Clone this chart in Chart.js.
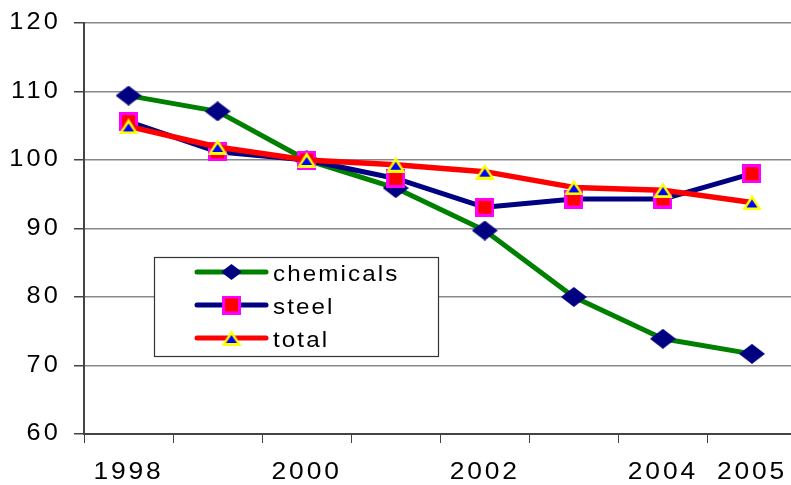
<!DOCTYPE html>
<html>
<head>
<meta charset="utf-8">
<script src="https://cdn.jsdelivr.net/npm/chart.js@4/dist/chart.umd.min.js"></script>
<style>
  html, body { margin: 0; padding: 0; background: #fff; overflow: hidden; }
  #wrap { width: 806px; height: 485px; }
</style>
</head>
<body>
<div id="wrap"><canvas id="c" width="806" height="485"></canvas></div>
<script>
// Index values by year (2000 = 100)
const years = ['1998', '1999', '2000', '2001', '2002', '2003', '2004', '2005'];
const labeledYears = ['1998', '2000', '2002', '2004', '2005'];
const chemicals = [109.4, 107.1, 100.0, 95.9, 89.7, 80.0, 73.9, 71.7];
const steel     = [105.6, 101.2, 100.0, 97.3, 93.1, 94.3, 94.3, 98.0];
const total     = [104.9, 101.9, 100.0, 99.3, 98.3, 96.0, 95.6, 93.8];
const yMin = 60, yMax = 120, yStep = 10;

const FONT = '"Liberation Sans", Arial, sans-serif';
const STRETCH = 1.1;   // slightly wide lettering

// Marker images
function makeMarker(w, h, draw) {
  const c = document.createElement('canvas');
  c.width = w; c.height = h;
  draw(c.getContext('2d'), w, h);
  return c;
}
function diamondMarker(w, h) {
  return makeMarker(w, h, (g) => {
    g.fillStyle = '#000080';
    g.beginPath();
    g.moveTo(w / 2, 0); g.lineTo(w, h / 2); g.lineTo(w / 2, h); g.lineTo(0, h / 2);
    g.closePath(); g.fill();
  });
}
const diamond = diamondMarker(26, 20);
const diamondSmall = diamondMarker(21, 16);
const square = makeMarker(19, 19, (g, w, h) => {
  g.fillStyle = '#FF00FF'; g.fillRect(0, 0, w, h);
  g.fillStyle = '#FF0000'; g.fillRect(3, 3, w - 6, h - 6);
});
const triangle = makeMarker(20, 16, (g, w, h) => {
  g.fillStyle = '#FFFF00';
  g.beginPath(); g.moveTo(w / 2, 0); g.lineTo(w, h); g.lineTo(0, h); g.closePath(); g.fill();
  g.fillStyle = '#0000FF';
  g.beginPath(); g.moveTo(w / 2, 5); g.lineTo(w - 4.5, h - 3); g.lineTo(4.5, h - 3); g.closePath(); g.fill();
});
const legendMarkers = [diamondSmall, square, triangle];

// Draw text horizontally stretched about its anchor point
function wideText(ctx, text, x, y, k) {
  ctx.save();
  ctx.translate(x, y);
  ctx.scale(k, 1);
  CanvasRenderingContext2D.prototype.fillText.call(ctx, text, 0, 0);
  ctx.restore();
}

// Tick labels of a scale drawn with wide, spaced lettering
function wideLabels(scale, k, px) {
  if (scale._wide) return;
  const orig = scale.drawLabels;
  scale.drawLabels = function (area) {
    const ctx = this.ctx;
    ctx.save();
    ctx.letterSpacing = px;
    ctx.fillText = function (t, x, y) { wideText(ctx, t, x, y, k); };
    orig.call(this, area);
    delete ctx.fillText;
    ctx.restore();
  };
  scale._wide = true;
}

// Boxed legend placed inside the plot area
const insetLegend = {
  id: 'insetLegend',
  afterDatasetsDraw(chart) {
    const ctx = chart.ctx;
    const box = { x: 154.5, y: 257.5, w: 284, h: 99 };
    ctx.save();
    ctx.fillStyle = '#fff';
    ctx.fillRect(box.x, box.y, box.w, box.h);
    ctx.strokeStyle = '#333';
    ctx.lineWidth = 1.2;
    ctx.strokeRect(box.x, box.y, box.w, box.h);
    const rows = [272, 305, 338];
    chart.data.datasets.forEach((ds, i) => {
      const y = rows[i];
      ctx.strokeStyle = ds.borderColor;
      ctx.lineWidth = 5;
      ctx.lineCap = 'round';
      ctx.beginPath(); ctx.moveTo(197, y); ctx.lineTo(266, y); ctx.stroke();
      const m = legendMarkers[i];
      ctx.drawImage(m, 231.5 - m.width / 2, y - m.height / 2);
      ctx.fillStyle = '#000';
      ctx.font = '22px ' + FONT;
      ctx.letterSpacing = '1.9px';
      ctx.textBaseline = 'alphabetic';
      ctx.textAlign = 'left';
      wideText(ctx, ds.label, 273, y + 9, STRETCH);
    });
    ctx.restore();
  }
};

new Chart(document.getElementById('c'), {
  type: 'line',
  data: {
    labels: years,
    datasets: [
      { label: 'chemicals', data: chemicals, borderColor: '#008000', borderWidth: 5,
        pointStyle: diamond, order: 3 },
      { label: 'steel', data: steel, borderColor: '#000080', borderWidth: 5,
        pointStyle: square, order: 2 },
      { label: 'total', data: total, borderColor: '#FF0000', borderWidth: 5.5,
        pointStyle: triangle, order: 1 }
    ]
  },
  options: {
    responsive: false,
    animation: false,
    events: [],
    layout: { padding: { top: 23, right: 4, left: 0, bottom: 0 } },
    elements: { line: { tension: 0, fill: false, borderJoinStyle: 'round', borderCapStyle: 'round' } },
    plugins: { legend: { display: false }, tooltip: { enabled: false } },
    scales: {
      x: {
        offset: true,
        afterFit(s) {
          s.height = 51; s.paddingLeft = 0; s.paddingRight = 0;
          wideLabels(s, STRETCH, '2.6px');
        },
        border: { display: true, color: '#444', width: 2 },
        grid: { display: true, drawOnChartArea: false, drawTicks: true, tickLength: 9,
                offset: true, color: '#444', lineWidth: 1 },
        ticks: {
          autoSkip: false, maxRotation: 0, padding: 15, color: '#000',
          font: { family: FONT, size: 24 },
          callback(v, i) { const y = years[i]; return labeledYears.includes(y) ? y : ''; }
        }
      },
      y: {
        min: yMin, max: yMax,
        afterFit(s) {
          s.width = 84; s.paddingTop = 0; s.paddingBottom = 0;
          wideLabels(s, STRETCH, '2.9px');
        },
        border: { display: true, color: '#444', width: 2 },
        grid: { color: '#888', lineWidth: 1.5, tickLength: 10, tickColor: '#444' },
        ticks: { stepSize: yStep, padding: 13, color: '#000',
                 font: { family: FONT, size: 23 } }
      }
    }
  },
  plugins: [insetLegend]
});
</script>
</body>
</html>
